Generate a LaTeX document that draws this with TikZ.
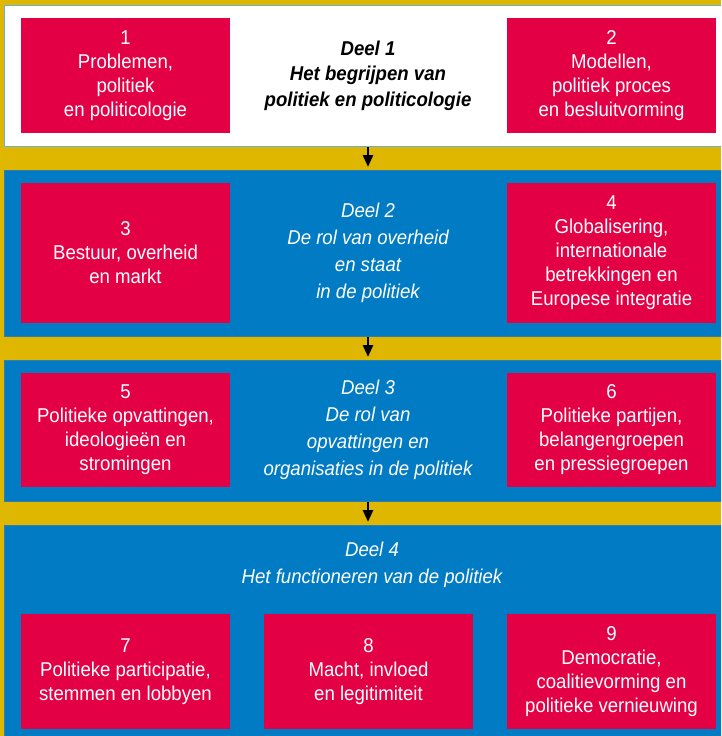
\documentclass[tikz,border=0pt]{standalone}
\usepackage{fontspec}
\setmainfont{Liberation Sans}[FakeStretch=0.93]
\usetikzlibrary{positioning, calc, arrows.meta}
\definecolor{goud}{RGB}{224,183,0}
\definecolor{blauw}{RGB}{0,123,196}
\definecolor{rood}{RGB}{228,0,68}
\tikzset{
    band/.style={anchor=north west, minimum width=730pt, inner sep=0pt},
    hoofdstuk/.style={fill=rood, text=white, minimum width=209pt, minimum height=115pt,
        inner sep=0pt, align=center, font=\fontsize{20}{24}\selectfont},
    deel/.style={align=center, text=white, font=\itshape\fontsize{20}{27}\selectfont},
    pijl/.style={-{Triangle[length=12pt,width=10pt]}, line width=2.6pt, shorten >=3pt}
}

\begin{document}
\begin{tikzpicture}[x=1pt, y=-1pt]

% Achtergrond
\useasboundingbox (0,0) rectangle (721,736);
\clip (0,0) rectangle (721,736);
\fill[goud] (0,0) rectangle (721,736);

% Banden per deel
\node[band, fill=white, draw=blauw!60, line width=1pt, minimum height=141pt] (b1) at (4,5) {};
\node[band, fill=blauw, draw=blauw!60!gray, line width=0.8pt, minimum height=166pt] (b2) at (4,170) {};
\node[band, fill=blauw, draw=blauw!60!gray, line width=0.8pt, minimum height=141pt] (b3) at (4,360) {};
\node[band, fill=blauw, draw=blauw!60!gray, line width=0.8pt, minimum height=230pt] (b4) at (4,525) {};

% Deel 1
\node[hoofdstuk] (k1) at (125.5,75.5) {1\\Problemen,\\politiek\\en politicologie};
\node[hoofdstuk] (k2) at (611.5,75.5) {2\\Modellen,\\politiek proces\\en besluitvorming};
\node[deel, text=black, font=\bfseries\itshape\fontsize{20}{25.5}\selectfont] (deel1) at (368,75.5)
    {Deel 1\\Het begrijpen van\\politiek en politicologie};

% Deel 2
\node[hoofdstuk, minimum height=140pt] (k3) at (125.5,253) {3\\Bestuur, overheid\\en markt};
\node[hoofdstuk, minimum height=140pt] (k4) at (611.5,253)
    {4\\Globalisering,\\internationale\\betrekkingen en\\Europese integratie};
\node[deel] (deel2) at (368,253) {Deel 2\\De rol van overheid\\en staat\\in de politiek};

% Deel 3
\node[hoofdstuk, minimum height=114pt] (k5) at (125.5,430)
    {5\\Politieke opvattingen,\\ideologieën en\\stromingen};
\node[hoofdstuk, minimum height=114pt] (k6) at (611.5,430)
    {6\\Politieke partijen,\\belangengroepen\\en pressiegroepen};
\node[deel] (deel3) at (368,430) {Deel 3\\De rol van\\opvattingen en\\organisaties in de politiek};

% Deel 4
\node[deel] (deel4) at (372,565) {Deel 4\\Het functioneren van de politiek};
\node[hoofdstuk] (k7) at (125.5,671.5) {7\\Politieke participatie,\\stemmen en lobbyen};
\node[hoofdstuk] (k8) at (368.5,671.5) {8\\Macht, invloed\\en legitimiteit};
\node[hoofdstuk] (k9) at (611.5,671.5) {9\\Democratie,\\coalitievorming en\\politieke vernieuwing};

% Pijlen tussen de delen
\draw[pijl] (b1.south -| deel1) -- (b2.north -| deel1);
\draw[pijl] (b2.south -| deel1) -- (b3.north -| deel1);
\draw[pijl] (b3.south -| deel1) -- (b4.north -| deel1);

\end{tikzpicture}
\end{document}
